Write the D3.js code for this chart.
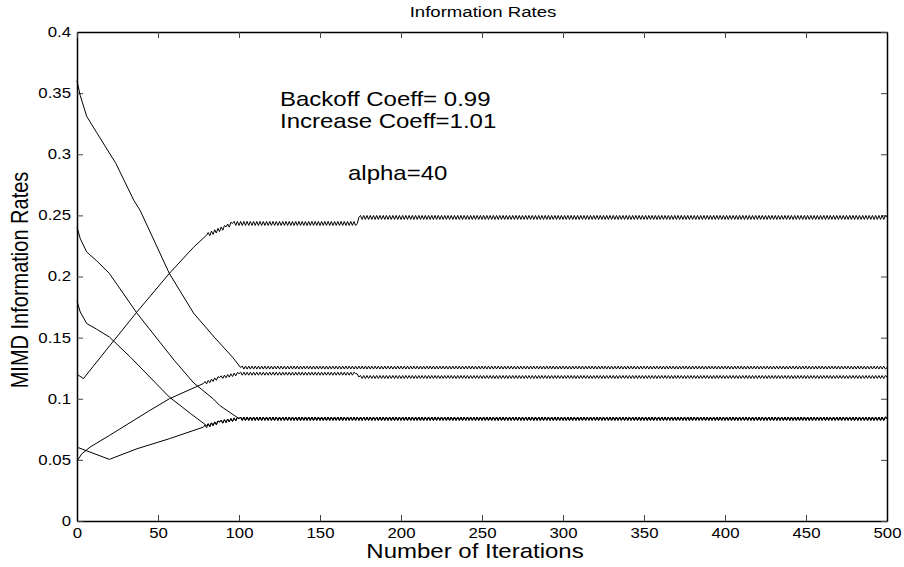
<!DOCTYPE html>
<html>
<head>
<meta charset="utf-8">
<script src="https://cdn.jsdelivr.net/npm/d3@7"></script>
<style>
  html, body { margin: 0; padding: 0; background: #fff; }
  svg { display: block; }
  text { font-family: "Liberation Sans", Arial, Helvetica, sans-serif; fill: #000; }
</style>
</head>
<body>
<svg id="chart" width="904" height="567"></svg>
<script>
// ---------------- data ----------------
const chartTitle = "Information Rates";
const xLabel = "Number of Iterations";
const yLabel = "MIMD Information Rates";
const annotations = ["Backoff Coeff= 0.99", "Increase Coeff=1.01", "alpha=40"];

const xDomain = [0, 500];
const yDomain = [0, 0.4];
const xTickValues = [0, 50, 100, 150, 200, 250, 300, 350, 400, 450, 500];
const xTickLabels = ["0", "50", "100", "150", "200", "250", "300", "350", "400", "450", "500"];
const yTickValues = [0, 0.05, 0.1, 0.15, 0.2, 0.25, 0.3, 0.35, 0.4];
const yTickLabels = ["0", "0.05", "0.1", "0.15", "0.2", "0.25", "0.3", "0.35", "0.4"];

// [iteration, information rate]
const rateUser1 = [[0,0.360],[2,0.348],[6,0.331],[12,0.318],[24,0.2925],[35,0.2625],[39,0.254],
                   [57,0.2025],[72,0.170],[85,0.150],[96,0.134],[101,0.1255],[500,0.1255]];
const rateUser2 = [[0,0.2406],[2,0.231],[6,0.220],[12,0.213],[20,0.2025],[37,0.170],[60,0.1315],[72,0.113],[84,0.100],
                   [88,0.0946],[100,0.0837],[500,0.0837]];
const rateUser3 = [[0,0.180],[2,0.171],[6,0.1615],[12,0.157],[20,0.1505],[33,0.134],[57,0.1014],[70,0.088],
                   [80,0.078],[88,0.0809],[100,0.0837],[500,0.0837]];
const rateUser4 = [[0,0.120],[4,0.1165],[10,0.1265],[23,0.148],[37,0.171],[57,0.2025],[72,0.224],[80,0.2338],
                   [92,0.2406],[96,0.2434],[173,0.2434],[174,0.2483],[500,0.2483]];
const rateUser5 = [[0,0.049],[3,0.055],[8,0.0604],[20,0.070],[45,0.0905],[57,0.100],[78,0.1124],[88,0.1173],
                   [100,0.1205],[172,0.1205],[174,0.1178],[500,0.1178]];
const rateUser6 = [[0,0.0604],[20,0.0504],[37,0.0591],[57,0.0673],[78,0.0768],[88,0.0809],[100,0.0837],[500,0.0837]];

// iteration from which each rate oscillates (MIMD back-off / increase)
const oscillationStart = [101, 100, 80, 80, 78, 78];
const allRates = [rateUser1, rateUser2, rateUser3, rateUser4, rateUser5, rateUser6];

// ---------------- layout / style ----------------
const plot = { left: 77, right: 887, top: 32, bottom: 521 };
const textStretch = 1.2;              // reference text is horizontally stretched
const zigAmp = [1.5, 1.6, 1.6, 2.0, 1.5, 1.6];

const svg = d3.select("#chart");
svg.append("rect").attr("width", 904).attr("height", 567).attr("fill", "#fff");

const x = d3.scaleLinear().domain(xDomain).range([plot.left, plot.right]);
const y = d3.scaleLinear().domain(yDomain).range([plot.bottom, plot.top]);

// zig-zag line texture: one vertex per iteration, alternating up / down
function curveZigzag(amp, stepPx) {
  return function(context) {
    let prev = null, parity = 0;
    return {
      areaStart() {}, areaEnd() {},
      lineStart() { prev = null; parity = 0; },
      lineEnd() {},
      point(px, py) {
        px = +px; py = +py;
        if (!prev) context.moveTo(px, py);
        else {
          const n = Math.max(1, Math.round((px - prev[0]) / stepPx));
          for (let i = 1; i <= n; i++) {
            const f = i / n; parity ^= 1;
            const off = i < n ? (parity ? -amp : amp) : 0;
            context.lineTo(prev[0] + (px - prev[0]) * f, prev[1] + (py - prev[1]) * f + off);
          }
        }
        prev = [px, py];
      }
    };
  };
}

// ---------------- axes ----------------
const tickLen = 6;
const axisFont = 14;
const gx = svg.append("g").attr("transform", `translate(0,${plot.bottom})`)
  .call(d3.axisBottom(x).tickValues(xTickValues).tickFormat((d, i) => xTickLabels[i])
        .tickSizeInner(-tickLen).tickSizeOuter(0).tickPadding(7));
const gy = svg.append("g").attr("transform", `translate(${plot.left},0)`)
  .call(d3.axisLeft(y).tickValues(yTickValues).tickFormat((d, i) => yTickLabels[i])
        .tickSizeInner(-tickLen).tickSizeOuter(0).tickPadding(5));
const gt = svg.append("g").attr("transform", `translate(0,${plot.top})`)
  .call(d3.axisTop(x).tickValues(xTickValues).tickFormat("").tickSizeInner(-tickLen).tickSizeOuter(0));
const gr = svg.append("g").attr("transform", `translate(${plot.right},0)`)
  .call(d3.axisRight(y).tickValues(yTickValues).tickFormat("").tickSizeInner(-tickLen).tickSizeOuter(0));

[gx, gy, gt, gr].forEach(g => {
  g.select(".domain").attr("stroke", "#000").attr("stroke-width", 1.5);
  g.selectAll(".tick line").attr("stroke", "#444").attr("stroke-width", 1);
  g.selectAll(".tick text")
    .attr("font-size", axisFont)
    .attr("font-family", '"Liberation Sans", Arial, sans-serif')
    .attr("fill", "#000")
    .attr("transform", `scale(${textStretch},1)`);
});

// ---------------- lines ----------------
const stepPx = x(1) - x(0);
const lines = svg.append("g");
allRates.forEach((rates, k) => {
  const s = oscillationStart[k];
  const pre = rates.filter(d => d[0] <= s);
  const post = rates.filter(d => d[0] >= s);
  lines.append("path").datum(pre)
    .attr("d", d3.line().x(d => x(d[0])).y(d => y(d[1])).curve(d3.curveLinear))
    .attr("fill", "none").attr("stroke", "#000").attr("stroke-width", 1);
  lines.append("path").datum(post)
    .attr("d", d3.line().x(d => x(d[0])).y(d => y(d[1])).curve(curveZigzag(zigAmp[k], stepPx)))
    .attr("fill", "none").attr("stroke", "#000").attr("stroke-width", 1);
});

// ---------------- texts ----------------
function stretchedText(tx, ty, str, size, anchor, rotate) {
  return svg.append("text")
    .attr("transform", `translate(${tx},${ty}) scale(${textStretch},1)` + (rotate ? ` rotate(${rotate})` : ""))
    .attr("text-anchor", anchor)
    .attr("font-size", size)
    .text(str);
}
stretchedText(483, 17, chartTitle, 15.5, "middle");
stretchedText(475, 558, xLabel, 20, "middle");
stretchedText(28, 280, yLabel, 20, "middle", -90);
stretchedText(280, 106, annotations[0], 20, "start");
stretchedText(280, 128, annotations[1], 20, "start");
stretchedText(348, 180, annotations[2], 20, "start");
</script>
</body>
</html>
